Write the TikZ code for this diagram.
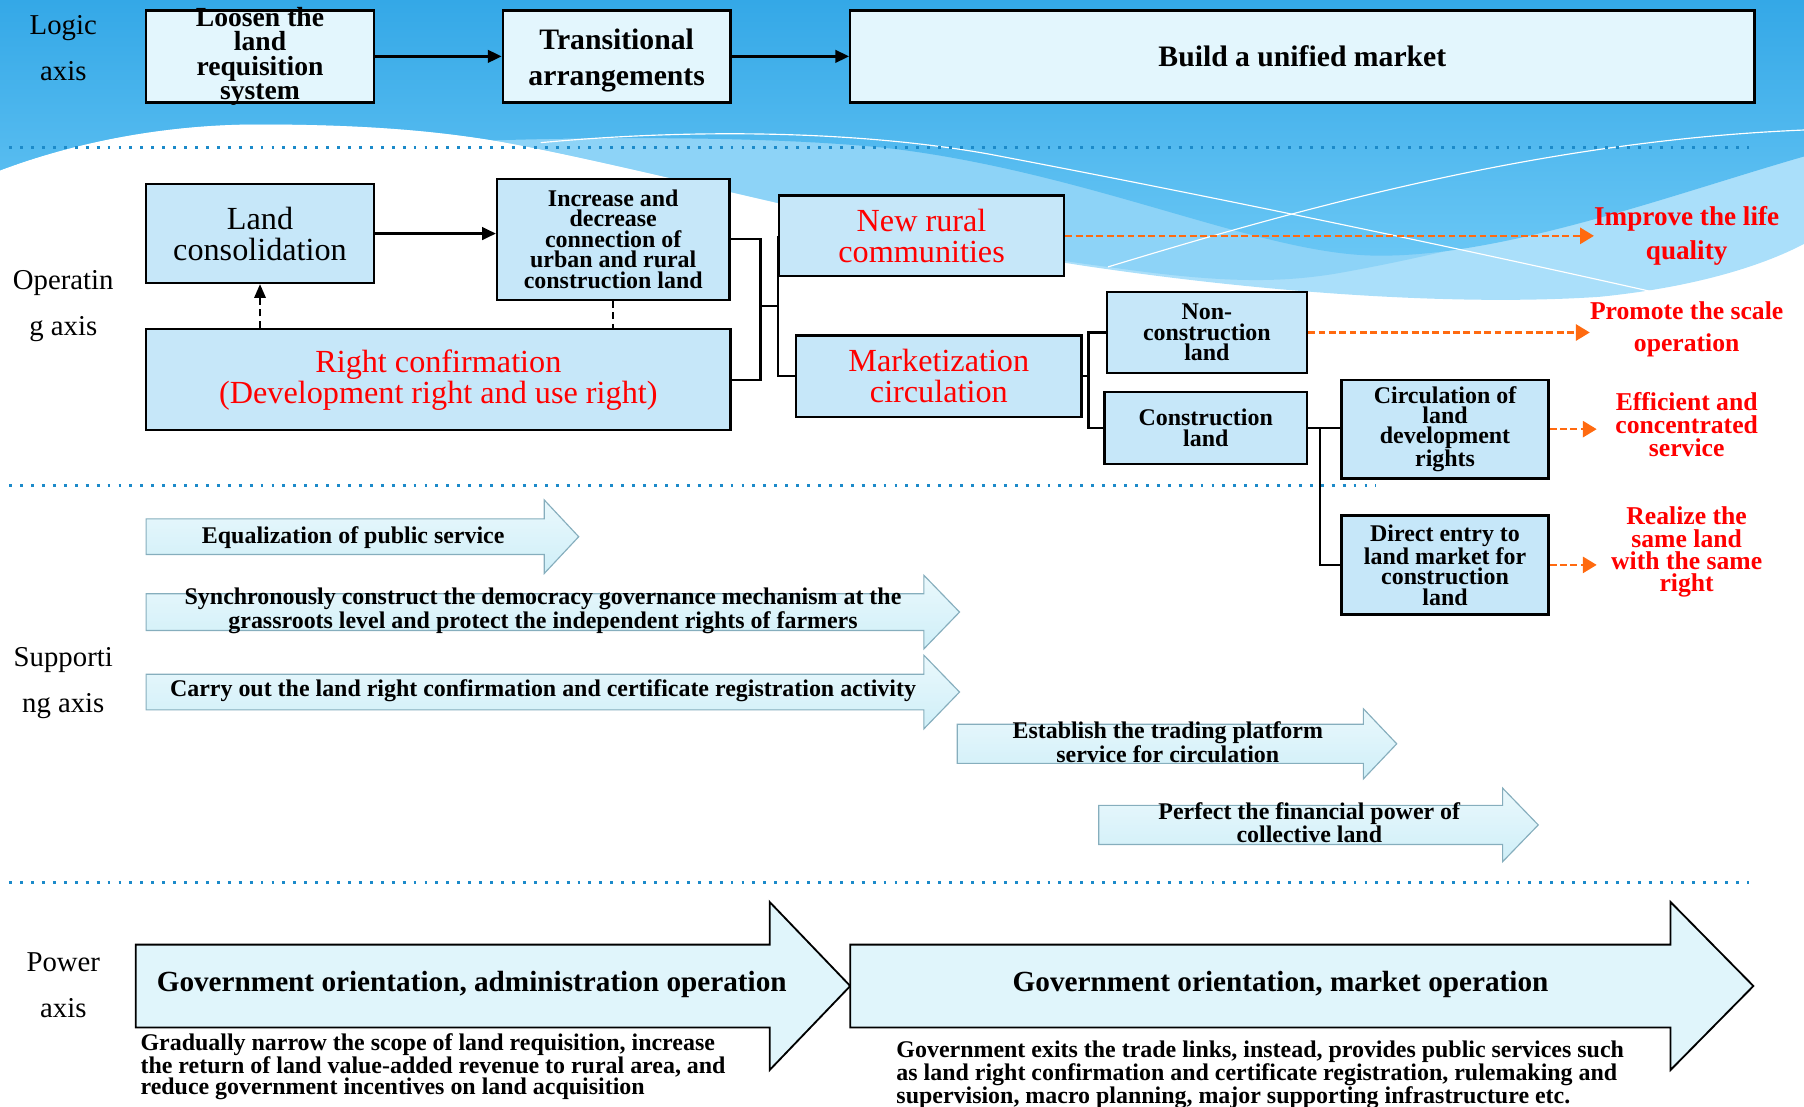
\documentclass[tikz,border=0pt]{standalone}
\usepackage{fontspec}
\setmainfont{Liberation Serif}
\usetikzlibrary{arrows.meta}

\definecolor{logicfill}{HTML}{E3F6FD}
\definecolor{opfill}{HTML}{C6E7F9}
\definecolor{outred}{HTML}{FF0000}
\definecolor{outorange}{HTML}{FF6A10}
\definecolor{dotblue}{HTML}{1C8AC9}
\definecolor{skytop}{HTML}{34A8E7}
\definecolor{skymid}{HTML}{6AC7F5}
\definecolor{skylight}{HTML}{8DD3F7}
\definecolor{skypale}{HTML}{AADFFA}
\definecolor{bandtop}{HTML}{EAF8FC}
\definecolor{bandbottom}{HTML}{CFEFF8}
\definecolor{bandedge}{HTML}{86AEBD}
\definecolor{powerfill}{HTML}{E0F5FB}

\tikzstyle{axislabel} = [align=center, font=\fontsize{25}{40}\selectfont]
\tikzstyle{logicbox} = [rectangle, draw=black, line width=2pt, fill=logicfill, align=center, inner sep=0pt, minimum height=80pt, font=\bfseries\fontsize{25.8}{31}\selectfont]
\tikzstyle{opbox} = [rectangle, draw=black, line width=2pt, fill=opfill, align=center, inner sep=0pt]
\tikzstyle{optext} = [font=\fontsize{28}{27}\selectfont]
\tikzstyle{redtext} = [text=outred, font=\fontsize{28}{27}\selectfont]
\tikzstyle{smalltext} = [font=\bfseries\fontsize{20.8}{17.8}\selectfont]
\tikzstyle{outcome} = [align=center, text=outred, minimum width=156pt, inner xsep=0pt, font=\bfseries\fontsize{22.3}{20}\selectfont]
\tikzstyle{arrow} = [line width=2pt, -{Triangle[length=12pt, width=11pt]}]
\tikzstyle{connector} = [line width=2pt]
\tikzstyle{dasharrow} = [line width=1.6pt, dash pattern=on 6pt off 4pt, -{Triangle[length=12pt, width=10pt]}]
\tikzstyle{outarrow} = [line width=2pt, outorange, dash pattern=on 6pt off 3pt, -{Triangle[length=12pt, width=14pt]}]
\tikzstyle{separator} = [dotblue, line width=2.5pt, dash pattern=on 2.5pt off 7pt]
\tikzstyle{supband} = [draw=bandedge, line width=1pt, top color=bandtop, bottom color=bandbottom]
\tikzstyle{powerband} = [draw=black, line width=1.6pt, fill=powerfill]
\tikzstyle{bandtext} = [align=center, font=\bfseries\fontsize{20.8}{17.8}\selectfont]
\tikzstyle{notetext} = [align=left, anchor=west, inner sep=0pt, font=\bfseries\fontsize{20.8}{17.5}\selectfont]

% block arrow: style, tail x, shoulder x, tip x, mid y, half shaft, half head
\newcommand{\bandarrow}[7]{\draw[#1] (#2,#5-#6) -- (#3,#5-#6) -- (#3,#5-#7) -- (#4,#5) -- (#3,#5+#7) -- (#3,#5+#6) -- (#2,#5+#6) -- cycle;}

\begin{document}
\begin{tikzpicture}[x=1pt, y=-1pt]
\useasboundingbox (0,0) rectangle (1568,962);

% Background
\fill[skypale] (0,0) -- (0,148) .. controls (80,118) and (160,108) .. (224,108) .. controls (320,108) and (380,114) .. (429,122) .. controls (560,145) and (800,212) .. (963,234) .. controls (1110,255) and (1270,266) .. (1390,258) .. controls (1470,250) and (1530,232) .. (1568,212) -- (1568,0) -- cycle;
\fill[skylight] (0,0) -- (0,148) .. controls (80,118) and (160,108) .. (224,108) .. controls (320,108) and (380,114) .. (429,122) .. controls (560,145) and (800,212) .. (963,232) .. controls (1060,246) and (1110,246) .. (1160,238) .. controls (1320,210) and (1460,160) .. (1568,136) -- (1568,0) -- cycle;
\shade[top color=skytop, bottom color=skymid] (0,0) -- (0,148) .. controls (80,118) and (160,108) .. (224,108) .. controls (320,108) and (380,114) .. (429,122) .. controls (560,118) and (700,120) .. (782,130) .. controls (950,152) and (1090,218) .. (1189,222) .. controls (1300,226) and (1450,170) .. (1568,136) -- (1568,0) -- cycle;
\draw[white, line width=1pt] (470,124) .. controls (620,110) and (760,116) .. (860,134) .. controls (1060,172) and (1260,214) .. (1438,254);
\draw[white, line width=1pt] (963,232) .. controls (1150,175) and (1350,122) .. (1568,113);

% Separators
\draw[separator] (8,128) -- (1520,128);
\draw[separator] (8,422) -- (1196,422);
\draw[separator] (8,767) -- (1520,767);

% Axis labels
\node (logicaxis) [axislabel] at (55,42) {Logic\\axis};
\node (operaxis) [axislabel] at (55,266) {Operatin\\g axis};
\node (suppaxis) [axislabel] at (55,594) {Supporti\\ng axis};
\node (poweraxis) [axislabel] at (55,856) {Power\\axis};

% Logic axis
\node (loosen) [logicbox, minimum width=198pt, inner ysep=-3pt, font=\bfseries\fontsize{24}{21}\selectfont] at (226,49) {Loosen the\\land\\requisition\\system};
\node (transit) [logicbox, minimum width=198pt] at (536,49) {\rule{0pt}{25pt}Transitional\\arrangements};
\node (unified) [logicbox, minimum width=786pt] at (1132,49) {Build a unified market};

% Operating axis
\node (landcons) [opbox, optext, minimum width=198pt, minimum height=86pt] at (226,203) {Land\\consolidation};
\node (incdec) [opbox, smalltext, minimum width=202pt, minimum height=105pt] at (533,208) {Increase and\\decrease\\connection of\\urban and rural\\construction land};
\node (rightconf) [opbox, redtext, minimum width=508pt, minimum height=88pt] at (381,330) {Right confirmation\\(Development right and use right)};
\node (newrural) [opbox, redtext, minimum width=248pt, minimum height=70pt] at (801,205) {New rural\\communities};
\node (market) [opbox, redtext, minimum width=248pt, minimum height=71pt] at (816,327) {Marketization\\circulation};
\node (noncons) [opbox, smalltext, minimum width=174pt, minimum height=70pt] at (1049,289) {Non-\\construction\\land};
\node (cons) [opbox, smalltext, minimum width=176pt, minimum height=62pt] at (1048,372) {Construction\\land};
\node (circ) [opbox, smalltext, minimum width=180pt, minimum height=86pt] at (1256,373) {Circulation of\\land\\development\\rights};
\node (direct) [opbox, smalltext, minimum width=180pt, minimum height=86pt] at (1256,491) {Direct entry to\\land market for\\construction\\land};

% Outcomes
\node (improve) [outcome, font=\bfseries\fontsize{23.6}{29}\selectfont] at (1466,205) {Improve the life\\quality};
\node (promote) [outcome, font=\bfseries\fontsize{22.3}{28}\selectfont] at (1466,286) {Promote the scale\\operation};
\node (efficient) [outcome] at (1466,369) {Efficient and\\concentrated\\service};
\node (realize) [outcome, font=\bfseries\fontsize{22.3}{19.5}\selectfont] at (1466,480) {Realize the\\same land\\with the same\\right};

% Arrows
\draw [arrow] (loosen) -- (transit);
\draw [arrow] (transit) -- (unified);
\draw [arrow] (landcons.east) -- (landcons.east -| incdec.west);
\draw [dasharrow] (landcons.south |- rightconf.north) -- (landcons.south);
\draw [connector, line width=1.6pt, dash pattern=on 6pt off 4pt] (incdec.south) -- (incdec.south |- rightconf.north);
\coordinate (j1) at (661,266);
\coordinate (j2) at (676,266);
\coordinate (j3) at (946,327);
\coordinate (j4) at (1147,372);
\draw [connector] (incdec.east) -| (j1) |- (rightconf.east);
\draw [connector] (j1) -- (j2);
\draw [connector] (j2 |- newrural.west) |- (market.west);
\draw [connector] (market.east) -- (j3);
\draw [connector] (noncons.west) -| (j3) |- (cons.west);
\draw [connector] (cons.east) -- (circ.west |- cons.east);
\draw [connector] (j4) |- (direct.west);
\draw [outarrow] (newrural.east) -- (newrural.east -| improve.west);
\draw [outarrow] (noncons.east) -- (noncons.east -| promote.west);
\draw [outarrow] (circ.east) -- (circ.east -| efficient.west);
\draw [outarrow] (direct.east) -- (direct.east -| realize.west);

% Supporting axis
\bandarrow{supband}{127}{473}{503}{466.5}{15.5}{32}
\bandarrow{supband}{127}{803}{834}{532}{16}{32}
\bandarrow{supband}{127}{803}{834}{601.5}{15.5}{32}
\bandarrow{supband}{832}{1185}{1214}{646.5}{17}{30.5}
\bandarrow{supband}{955}{1306}{1337}{717}{17}{32}
\node (equal) [bandtext] at (307,467) {Equalization of public service};
\node (sync) [bandtext] at (472,531) {Synchronously construct the democracy governance mechanism at the\\grassroots level and protect the independent rights of farmers};
\node (carry) [bandtext] at (472,600) {Carry out the land right confirmation and certificate registration activity};
\node (platform) [bandtext] at (1015,645) {Establish the trading platform\\service for circulation};
\node (finance) [bandtext] at (1138,715) {Perfect the financial power of\\collective land};

% Power axis
\bandarrow{powerband}{118}{669}{739}{857}{36}{73}
\bandarrow{powerband}{739}{1452}{1524}{857}{36}{73}
\node (govadmin) [bandtext, font=\bfseries\fontsize{25.4}{30}\selectfont] at (410,856) {Government orientation, administration operation};
\node (govmarket) [bandtext, font=\bfseries\fontsize{25.4}{30}\selectfont] at (1113,856) {Government orientation, market operation};
\node (note1) [notetext] at (122,927) {Gradually narrow the scope of land requisition, increase\\the return of land value-added revenue to rural area, and\\reduce government incentives on land acquisition};
\node (note2) [notetext] at (779,934) {Government exits the trade links, instead, provides public services such\\as land right confirmation and certificate registration, rulemaking and\\supervision, macro planning, major supporting infrastructure etc.};

\end{tikzpicture}
\end{document}
